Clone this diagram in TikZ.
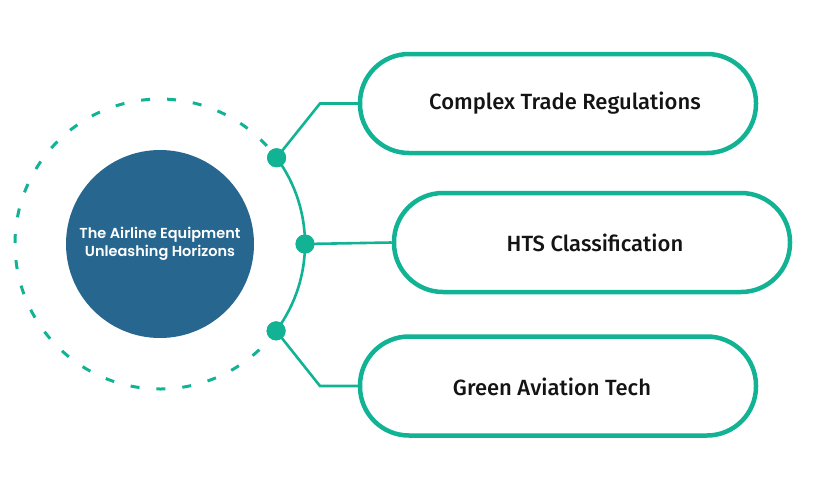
\documentclass[tikz,border=0pt]{standalone}
\usepackage{fontspec}
\setmainfont{Fira Sans}
\newfontfamily\medfont{Fira Sans}[UprightFont=* Medium]
\newfontfamily\hubfont{Poppins}[UprightFont=* SemiBold]
\definecolor{tealc}{RGB}{18,178,148}
\definecolor{hubblue}{RGB}{38,102,143}
\begin{document}
\begin{tikzpicture}[x=1pt,y=-1pt,
  hubnode/.style={circle,fill=hubblue,minimum size=188pt,inner sep=0pt,text=white,align=center,
    font=\hubfont\fontsize{14.5}{18}\selectfont},
  pill/.style={draw=tealc,line width=4.5pt,rounded corners=49pt,minimum width=396pt,minimum height=99pt,fill=white},
  pilltext/.style={font=\medfont\fontsize{22}{26}\selectfont,text=black!92,inner sep=0pt},
  dotnode/.style={circle,fill=tealc,minimum size=19pt,inner sep=0pt},
  conn/.style={draw=tealc,line width=2.6pt},
  dashline/.style={draw=tealc,line width=3pt,dash pattern=on 9pt off 17pt},
]
\useasboundingbox (0,0) rectangle (817,493);
\node[hubnode] (hub) at (160,244) {The Airline Equipment\\Unleashing Horizons};
% circles
\draw[dashline] (hub.center) ++(36.5:145) arc[start angle=36.5,end angle=323.5,radius=145];
\draw[conn] (hub.center) ++(-36.5:145) arc[start angle=-36.5,end angle=36.5,radius=145];
% pills
\node[pill] (p1) at (558,103.5) {};
\node[pill] (p2) at (592,242.5) {};
\node[pill] (p3) at (558,386) {};
\node[pilltext] (t1) at (565,103) {Complex Trade Regulations};
\node[pilltext] (t2) at (595,243) {HTS Classification};
\node[pilltext] (t3) at (552,387) {Green Aviation Tech};
% bends
\coordinate (b1) at (320,103.5);
\coordinate (b3) at (320,386);
% dots
\path (hub.center) ++(-36.5:145) node[dotnode] (d1) {};
\path (hub.center) ++(0:145) node[dotnode] (d2) {};
\path (hub.center) ++(36.8:145) node[dotnode] (d3) {};
% connectors
\draw[conn] (d1.center) -- (b1) -- (p1.west);
\draw[conn] (d2.center) -- (p2.west);
\draw[conn] (d3.center) -- (b3) -- (p3.west);
\node[dotnode] at (d1) {};
\node[dotnode] at (d2) {};
\node[dotnode] at (d3) {};
\end{tikzpicture}
\end{document}
